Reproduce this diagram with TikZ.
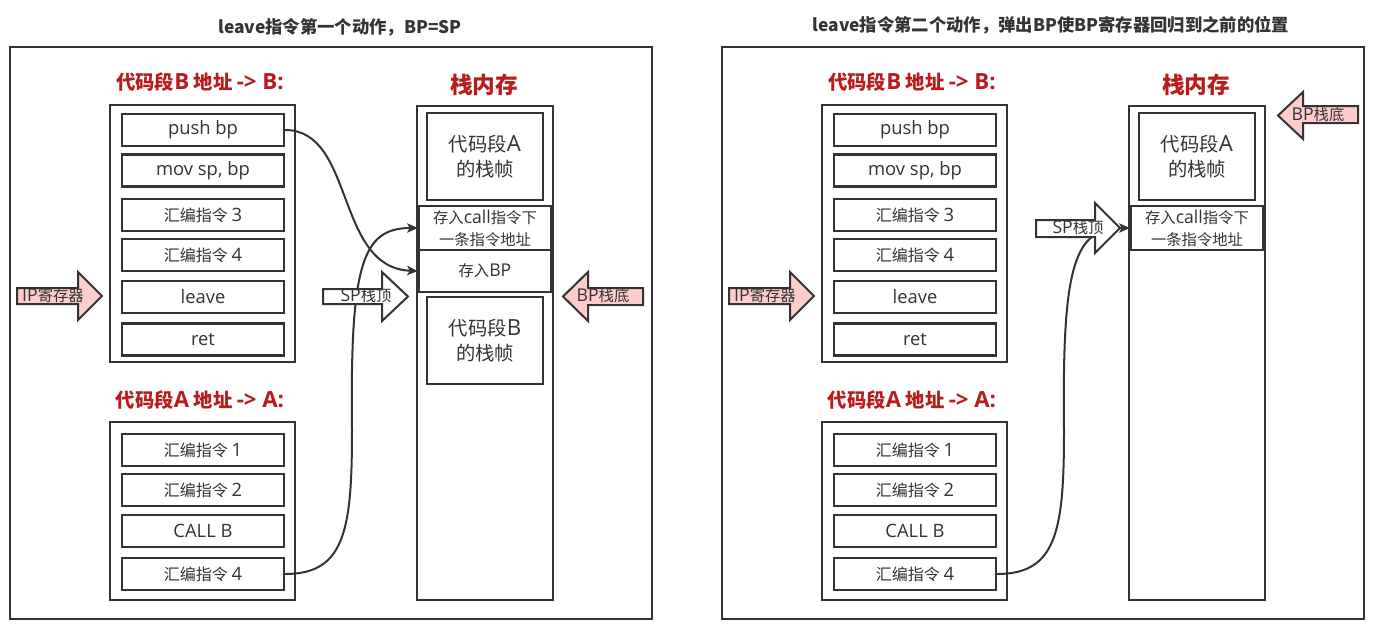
\documentclass[tikz,border=0pt]{standalone}
\usepackage{fontspec}
\setmainfont{Noto Sans CJK SC}
\newfontfamily\lat[Scale=1.15]{Open Sans}
\usetikzlibrary{arrows.meta}
\definecolor{dk}{RGB}{51,51,51}
\definecolor{rd}{RGB}{185,28,28}
\definecolor{pk}{RGB}{255,204,204}
\begin{document}
\begin{tikzpicture}[x=0.75pt,y=-0.75pt,
  title/.style={font=\bfseries\fontsize{13}{15}\selectfont, text=dk, inner sep=0},
  panel/.style={draw=dk, line width=1.5pt, minimum width=481.5pt, minimum height=429pt, inner sep=0},
  lbl/.style={font=\bfseries\fontsize{14.5}{16}\selectfont, text=rd, inner sep=0},
  big/.style={font=\bfseries\fontsize{17}{19}\selectfont, text=rd, inner sep=0},
  outerbox/.style={draw=dk, line width=1.8pt, inner sep=0},
  cell/.style={draw=dk, line width=1.8pt, minimum width=121.5pt, minimum height=24pt, inner sep=0,
    font=\fontsize{12}{14}\selectfont, text=dk},
  frm/.style={draw=dk, line width=1.8pt, minimum width=87pt, minimum height=65.25pt, inner sep=0,
    align=center, font=\fontsize{14.5}{19}\selectfont, text=dk},
  slot/.style={draw=dk, line width=1.8pt, minimum width=99pt, inner sep=0,
    align=center, font=\fontsize{11.5}{16.5}\selectfont, text=dk},
  ptr/.style={draw=dk, line width=1.5pt, line join=miter},
  ptrtxt/.style={font=\fontsize{11.5}{13}\selectfont, text=dk, inner sep=0},
  link/.style={draw=dk, line width=1.5pt, -{Stealth[length=8pt,width=7pt,inset=2pt]}}
]
\useasboundingbox (0,0) rectangle (1382,632);
\fill[white] (0,0) rectangle (1382,632);

\node[title] (t1) at (340,27) {leave指令第一个动作，BP=SP};
\node[title] (t2) at (1051,25) {leave指令第二个动作，弹出BP使BP寄存器回归到之前的位置};

\foreach \s/\d in {L/0,R/712}{
\begin{scope}[xshift=\d*0.75pt]
  \node[panel] (frame\s) at (331,333) {};
  \node[lbl] (labB\s) at (200,82) {代码段{\lat B} 地址 {\lat -> B:}};
  \node[lbl] (labA\s) at (200,400) {代码段{\lat A} 地址 {\lat -> A:}};
  \node[big] (stk\s) at (484,85) {栈内存};
  \node[outerbox, minimum width=138.75pt, minimum height=192.75pt] (codeB\s) at (202.5,233.5) {};
  \node[outerbox, minimum width=138.75pt, minimum height=133.5pt] (codeA\s) at (202.5,511) {};
  \node[cell] (push\s) at (203,130) {\lat push bp};
  \node[cell] (mov\s) at (203,170.5) {\lat mov sp, bp};
  \node[cell] (i3\s) at (203,215) {汇编指令 {\lat 3}};
  \node[cell] (i4\s) at (203,255) {汇编指令 {\lat 4}};
  \node[cell] (leave\s) at (203,297) {\lat leave};
  \node[cell] (ret\s) at (203,339.5) {\lat ret};
  \node[cell] (a1\s) at (203,450) {汇编指令 {\lat 1}};
  \node[cell] (a2\s) at (203,490) {汇编指令 {\lat 2}};
  \node[cell] (cb\s) at (203,531) {\lat CALL B};
  \node[cell] (a4\s) at (203,574) {汇编指令 {\lat 4}};
  \node[outerbox, minimum width=102pt, minimum height=370.5pt] (stack\s) at (485,353) {};
  \node[frm] (fA\s) at (485,156.5) {代码段{\lat A}\\的栈帧};
  \node[slot, minimum height=33pt] (call\s) at (485,228) {存入{\lat call}指令下\\一条指令地址};
  \draw[link] (a4\s.east) .. controls (345,574) and (352,530) .. (352,430)
     .. controls (350,265) and (362,228) .. (call\s.west);
  % IP arrow
  \draw[ptr, fill=pk] (17,288) -- (78,288) -- (78,272) -- (102,296) -- (78,320) -- (78,304) -- (17,304) -- cycle;
  \node[ptrtxt] (ip\s) at (53,296) {{\lat IP}寄存器};
\end{scope}}

% left stack extra
\node[slot, minimum height=31.5pt] (bpL) at (485,271) {存入{\lat BP}};
\node[frm] (fBL) at (485,340.5) {代码段{\lat B}\\的栈帧};
\draw[link] (pushL.east) .. controls (355,130) and (335,268) .. (bpL.west);

% left SP arrow
\draw[ptr, fill=white] (323,289) -- (382,289) -- (382,272) -- (408,296.5) -- (382,321) -- (382,304) -- (323,304) -- cycle;
\node[ptrtxt] (spL) at (366,296) {{\lat SP}栈顶};
% left BP arrow
\draw[ptr, fill=pk] (643,288) -- (588,288) -- (588,272) -- (563,296.5) -- (588,321) -- (588,305) -- (643,305) -- cycle;
\node[ptrtxt] (bpptrL) at (603,296) {{\lat BP}栈底};

% right SP arrow
\draw[ptr, fill=white] (1036,220) -- (1095,220) -- (1095,203) -- (1120,228) -- (1095,253) -- (1095,237) -- (1036,237) -- cycle;
\node[ptrtxt] (spR) at (1078,228) {{\lat SP}栈顶};
% right BP arrow
\draw[ptr, fill=pk] (1358,106) -- (1303,106) -- (1303,92) -- (1278,115.5) -- (1303,139) -- (1303,123) -- (1358,123) -- cycle;
\node[ptrtxt] (bpptrR) at (1318,115) {{\lat BP}栈底};
\end{tikzpicture}
\end{document}
